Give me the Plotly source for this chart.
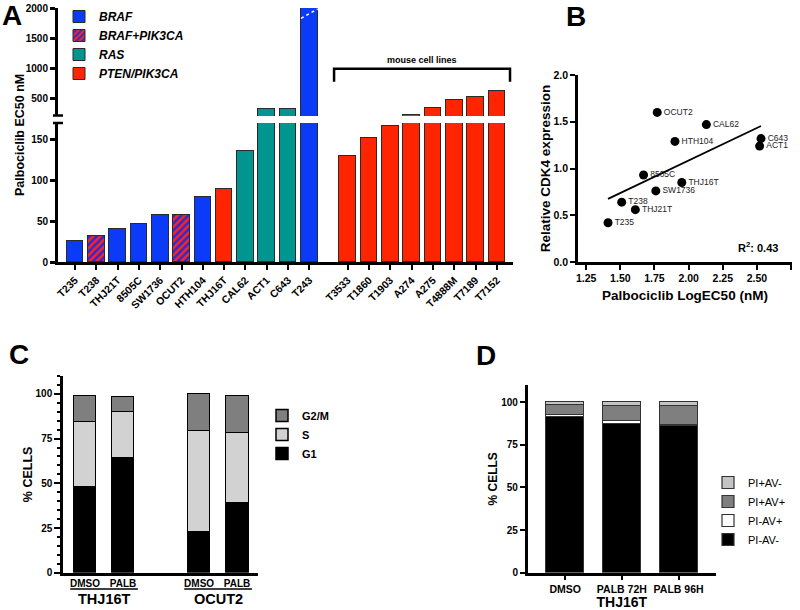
import numpy as np
import plotly.graph_objects as go

W, H = 800, 610
FONT = "Liberation Sans, Arial, sans-serif"

# ---------------- panel A: palbociclib EC50 per cell line
human_lines = ["T235", "T238", "THJ21T", "8505C", "SW1736", "OCUT2",
               "HTH104", "THJ16T", "CAL62", "ACT1", "C643", "T243"]
human_ec50 = [26, 32, 40, 46, 57, 57, 80, 89, 136, 317, 322, 2000]
human_class = ["BRAF", "BRAF+PIK3CA", "BRAF", "BRAF", "BRAF", "BRAF+PIK3CA",
               "BRAF", "PTEN/PIK3CA", "RAS", "RAS", "RAS", "BRAF"]
mouse_lines = ["T3533", "T1860", "T1903", "A274", "A275", "T4888M", "T7189", "T7152"]
mouse_ec50 = [130, 152, 166, 217, 338, 467, 517, 617]
mouse_class = ["PTEN/PIK3CA"] * 8
classes = ["BRAF", "BRAF+PIK3CA", "RAS", "PTEN/PIK3CA"]

# ---------------- panel B: CDK4 vs log EC50
b_lines = ["OCUT2", "CAL62", "HTH104", "C643", "ACT1", "8505C",
           "THJ16T", "SW1736", "T238", "THJ21T", "T235"]
b_logec50 = [1.77, 2.13, 1.90, 2.53, 2.52, 1.67, 1.95, 1.76, 1.51, 1.61, 1.41]
b_cdk4 = [1.60, 1.47, 1.29, 1.32, 1.24, 0.93, 0.85, 0.76, 0.64, 0.56, 0.42]

# ---------------- panel C: cell cycle
c_labels = ["DMSO", "PALB", "DMSO", "PALB"]
c_groups = ["THJ16T", "OCUT2"]
c_g1 = [48, 64, 23, 39]
c_s = [36, 26, 56, 39]
c_g2m = [15, 8.5, 21, 21]

# ---------------- panel D: apoptosis
d_labels = ["DMSO", "PALB 72H", "PALB 96H"]
d_pim_avm = [91.5, 87.3, 85.8]
d_pim_avp = [1.2, 1.6, 0.5]
d_pip_avp = [5.5, 8.7, 11.5]
d_pip_avm = [1.8, 2.4, 2.2]


def px(x):
    return x / W


def py(y):
    return 1 - y / H


def bold(size, **kw):
    return dict(family=FONT, size=size, color="black", weight="bold", **kw)


fig = go.Figure()

# ---- A bars (drawn in lower and upper segment of broken axis)
human_pos = list(range(len(human_lines)))
mouse_pos = [len(human_lines) + 0.8 + i for i in range(len(mouse_lines))]
all_pos = human_pos + mouse_pos
all_vals = human_ec50 + mouse_ec50
all_cls = human_class + mouse_class

styles = {
    "BRAF": dict(color="#0b3bf6"),
    "BRAF+PIK3CA": dict(color="#2b2ad6",
                        pattern=dict(shape="/", fgcolor="#ff2418", bgcolor="#2b2ad6",
                                     size=5, solidity=0.5)),
    "RAS": dict(color="#00958e"),
    "PTEN/PIK3CA": dict(color="#ff2500"),
}

for ya in ["y", "y2"]:
    for cls in classes:
        xs = [p for p, c in zip(all_pos, all_cls) if c == cls]
        vs = [v for v, c in zip(all_vals, all_cls) if c == cls]
        fig.add_trace(go.Bar(
            x=xs, y=vs, width=0.78, name="<b><i>%s</i></b>" % cls,
            marker=dict(line=dict(color="#2a2a2a", width=1), **styles[cls]),
            xaxis="x", yaxis=ya, legend="legend",
            showlegend=(ya == "y"),
        ))

# ---- B scatter + linear fit
fig.add_trace(go.Scatter(
    x=b_logec50, y=b_cdk4, mode="markers+text", text=b_lines, cliponaxis=False,
    textposition="middle right", textfont=dict(family=FONT, size=8.5, color="#222"),
    marker=dict(color="black", size=9), xaxis="x2", yaxis="y3", showlegend=False,
))
slope, icpt = np.polyfit(b_logec50, b_cdk4, 1)
fx = np.array([min(b_logec50), max(b_logec50)])
fig.add_trace(go.Scatter(
    x=fx, y=slope * fx + icpt, mode="lines", line=dict(color="black", width=1.8),
    xaxis="x2", yaxis="y3", showlegend=False,
))

# ---- C stacked bars
c_pos = [0, 1, 3, 4]
for name, vals, col in [("G1", c_g1, "black"), ("S", c_s, "#d2d2d2"), ("G2/M", c_g2m, "#7f7f7f")]:
    fig.add_trace(go.Bar(
        x=c_pos, y=vals, width=0.6, name="<b>%s</b>" % name,
        marker=dict(color=col, line=dict(color="black", width=1.5)),
        xaxis="x3", yaxis="y4", legend="legend2",
    ))

# ---- D stacked bars
d_pos = list(range(len(d_labels)))
for name, vals, col in [("PI-AV-", d_pim_avm, "black"), ("PI-AV+", d_pim_avp, "white"),
                        ("PI+AV+", d_pip_avp, "#7f7f7f"), ("PI+AV-", d_pip_avm, "#c4c4c4")]:
    fig.add_trace(go.Bar(
        x=d_pos, y=vals, width=0.67, name=name,
        marker=dict(color=col, line=dict(color="#333", width=1.2)),
        xaxis="x4", yaxis="y5", legend="legend3",
    ))

axis_common = dict(showline=True, linecolor="black", showgrid=False, zeroline=False,
                   ticks="outside", tickcolor="black", automargin=False)

shapes = []
annotations = []


def note(x, y, text, font, xref="paper", yref="paper", **kw):
    annotations.append(dict(x=x, y=y, xref=xref, yref=yref, text=text, showarrow=False,
                            font=font, xanchor="center", yanchor="middle", **kw))


# broken-axis marks for A
for yy in [115.5, 123]:
    shapes.append(dict(type="line", xref="paper", yref="paper",
                       x0=px(53), x1=px(63), y0=py(yy), y1=py(yy),
                       line=dict(color="black", width=2.5)))
# dashed white line on the off-scale bar
t243 = human_pos[-1]
shapes.append(dict(type="line", xref="x", yref="y2", x0=t243 - 0.39, x1=t243 + 0.39,
                   y0=1828, y1=1983, line=dict(color="white", width=1.5, dash="dot")))
# bracket over mouse lines
bx0, bx1 = mouse_pos[0] - 0.64, mouse_pos[-1] + 0.62
shapes.append(dict(type="path", xref="x", yref="y2",
                   path="M %f,771 L %f,987 L %f,987 L %f,771" % (bx0, bx0, bx1, bx1),
                   line=dict(color="black", width=2.5)))
note((bx0 + bx1) / 2, 1136, "mouse cell lines", bold(9), xref="x", yref="y2")
note(px(20), py(135), "Palbociclib EC50 nM", bold(12.5), textangle=-90)

# C group underlines and labels
for gi, g in enumerate(c_groups):
    p0, p1 = c_pos[2 * gi], c_pos[2 * gi + 1]
    shapes.append(dict(type="line", xref="x3", yref="paper", x0=p0 - 0.39, x1=p1 + 0.39,
                       y0=py(589), y1=py(589), line=dict(color="black", width=1.5)))
    note((p0 + p1) / 2, py(599), g, bold(14.5), xref="x3")

# R^2
note(px(758), py(247), "R<sup>2</sup>: 0.43", bold(11))

# panel letters
for lab, xx, yy in [("A", 12, 15), ("B", 576, 16), ("C", 19, 354), ("D", 486, 355)]:
    note(px(xx), py(yy), lab, bold(28))

fig.update_layout(
    template="none",
    width=W, height=H, margin=dict(l=0, r=0, t=0, b=0),
    paper_bgcolor="white", plot_bgcolor="white",
    barmode="stack", bargap=0,
    font=dict(family=FONT, color="black"),
    shapes=shapes, annotations=annotations,
    xaxis=dict(domain=[px(58), px(513)], range=[-0.8, 20.56], anchor="y",
               tickvals=all_pos, ticktext=human_lines + mouse_lines, tickangle=-45,
               ticklen=5, tickwidth=2, linewidth=3, tickfont=bold(10.5), **axis_common),
    yaxis=dict(domain=[py(262), py(123)], range=[0, 170], anchor="x",
               tickvals=[0, 50, 100, 150], ticklen=5, tickwidth=2.5, linewidth=3,
               tickfont=bold(10), **axis_common),
    yaxis2=dict(domain=[py(116), py(8)], range=[200, 2000], anchor="x",
                tickvals=[500, 1000, 1500, 2000], ticklen=5, tickwidth=2.5, linewidth=3,
                tickfont=bold(10), **axis_common),
    xaxis2=dict(domain=[px(578), px(792)], range=[1.19, 2.757], anchor="y3",
                tickvals=[1.25, 1.5, 1.75, 2.0, 2.25, 2.5, 2.75], tickformat=".2f",
                ticklen=5, tickwidth=2, linewidth=2.5, tickfont=bold(10.5),
                title=dict(text="Palbociclib LogEC50 (nM)", font=bold(13.5), standoff=8),
                **axis_common),
    yaxis3=dict(domain=[py(262), py(75)], range=[0, 2.0], anchor="x2",
                tickvals=[0, 0.5, 1.0, 1.5, 2.0], tickformat=".1f",
                ticklen=5, tickwidth=2, linewidth=2.5, tickfont=bold(10.5),
                title=dict(text="Relative CDK4 expression", font=bold(13.5), standoff=0),
                **axis_common),
    xaxis3=dict(domain=[px(63), px(258)], range=[-0.58, 4.55], anchor="y4",
                tickvals=c_pos, ticktext=c_labels, linewidth=2.5, tickfont=bold(10),
                **{**axis_common, "ticks": ""}),
    yaxis4=dict(domain=[py(572.7), py(376)], range=[0, 110], anchor="x3",
                tickvals=[0, 25, 50, 75, 100], ticklen=6, tickwidth=2, linewidth=2.5,
                tickfont=bold(10),
                minor=dict(tickmode="linear", tick0=0, dtick=5, ticks="outside",
                           ticklen=3, tickwidth=1.5, tickcolor="black"),
                title=dict(text="% CELLS", font=bold(12.5), standoff=1),
                **axis_common),
    xaxis4=dict(domain=[px(527.7), px(716)], range=[-0.66, 2.66], anchor="y5",
                tickvals=d_pos, ticktext=d_labels, ticklen=5, tickwidth=2, linewidth=2.5,
                tickfont=bold(10.5),
                title=dict(text="THJ16T", font=bold(14), standoff=15), **axis_common),
    yaxis5=dict(domain=[py(572.7), py(385)], range=[0, 110], anchor="x4",
                tickvals=[0, 25, 50, 75, 100], ticklen=5, tickwidth=2, linewidth=2.5,
                tickfont=bold(10),
                title=dict(text="% CELLS", font=bold(12), standoff=2),
                **axis_common),
    legend=dict(x=px(59), y=py(2), xanchor="left", yanchor="top", itemwidth=30,
                tracegroupgap=0, traceorder="normal", bgcolor="rgba(0,0,0,0)",
                font=dict(family=FONT, size=12, color="black")),
    legend2=dict(x=px(262), y=py(401), xanchor="left", yanchor="top", itemwidth=30,
                 traceorder="reversed", bgcolor="rgba(0,0,0,0)",
                 font=dict(family=FONT, size=11, color="black")),
    legend3=dict(x=px(708), y=py(468), xanchor="left", yanchor="top", itemwidth=30,
                 traceorder="reversed", bgcolor="rgba(0,0,0,0)",
                 font=dict(family=FONT, size=11, color="black")),
)

fig.write_html("out.html", config={"displayModeBar": False},
               post_script="document.body.style.margin='0px';document.body.style.overflow='hidden';")
